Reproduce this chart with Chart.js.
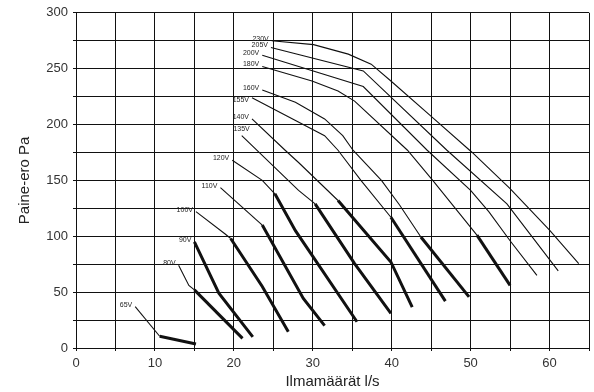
<!DOCTYPE html>
<html>
<head>
<meta charset="utf-8">
<script src="https://cdn.jsdelivr.net/npm/chart.js@4"></script>
<style>
  html, body { margin: 0; padding: 0; background: #fff; }
  #wrap { width: 594px; height: 392px; }
</style>
</head>
<body>
<div id="wrap"><canvas id="fanChart" width="594" height="392"></canvas></div>
<script>
// fan curves: thin part (outside the recommended range) and bold part
const voltages = ['65V', '80V', '90V', '100V', '110V', '120V', '135V', '140V', '155V', '160V', '180V', '200V', '205V', '230V'];

const thinFlow = [
    [7.5, 10.6],
    [13.0, 14.3, 15.0],
    [],
    [15.2, 18.9, 19.6],
    [18.3, 23.6],
    [19.8, 23.6, 25.2],
    [21.0, 28.2, 30.3],
    [22.3, 26.5, 28.2, 33.2],
    [22.3, 31.5, 33.2, 36.1, 39.9],
    [23.6, 27.8, 31.5, 33.8, 35.1, 38.7, 41.0, 43.7],
    [23.6, 29.9, 33.2, 35.3, 42.0, 45.2, 50.8],
    [23.6, 36.4, 44.5, 50.0, 52.3, 55.0, 58.4],
    [24.7, 36.4, 47.0, 54.6, 61.1],
    [24.8, 30.1, 34.5, 37.4, 39.9, 44.9, 50.2, 55.0, 60.0, 63.7]
];
const thinPressure = [
    [37, 10.5],
    [74, 56, 52],
    [],
    [122, 102, 98],
    [143.5, 110],
    [168, 150, 138],
    [190, 141, 129],
    [205, 177, 166, 132],
    [224, 190, 177, 150, 117],
    [231, 220, 205, 190, 177, 150, 128, 99.4],
    [252, 239, 230, 221, 177, 150, 101],
    [262, 234, 177, 141, 122, 96, 65],
    [269, 248, 177, 129, 69],
    [275, 271.5, 263, 254, 239, 208, 175, 142.6, 105.4, 75.6]
];
const boldFlow = [
    [10.6, 15.2],
    [15.0, 21.1],
    [15.0, 18.1, 22.4],
    [19.6, 23.6, 26.9],
    [23.6, 28.8, 31.5],
    [25.2, 27.8, 35.6],
    [30.3, 35.3, 39.9],
    [33.2, 39.9, 42.6],
    [39.9, 46.8],
    [43.7, 49.8],
    [50.8, 55.0],
    [],
    [],
    []
];
const boldPressure = [
    [10.5, 3.6],
    [52, 8.6],
    [95, 49, 10],
    [98, 55, 14.6],
    [110, 44.4, 20],
    [138, 105, 23.5],
    [129, 75.6, 31],
    [132, 77, 36.5],
    [117, 42],
    [99.4, 45.8],
    [101, 56],
    [],
    [],
    []
];

const xTicks = [0, 10, 20, 30, 40, 50, 60];
const yTicks = [0, 50, 100, 150, 200, 250, 300];

(function() {
    'use strict';

    const INK = '#111';
    const GRID = '#111';
    const FONT = "'Liberation Sans', Arial, sans-serif";

    function toPoints(xs, ys) {
        return xs.map(function(x, i) { return { x: x, y: ys[i] }; });
    }

    const datasets = [];
    voltages.forEach(function(v, i) {
        if (thinFlow[i].length) {
            datasets.push({
                label: v,
                data: toPoints(thinFlow[i], thinPressure[i]),
                borderColor: INK,
                borderWidth: 1.1,
                pointRadius: 0,
                tension: 0
            });
        }
        if (boldFlow[i].length) {
            datasets.push({
                label: v,
                data: toPoints(boldFlow[i], boldPressure[i]),
                borderColor: INK,
                borderWidth: 3,
                pointRadius: 0,
                tension: 0
            });
        }
    });

    // white page behind the plot
    const background = {
        id: 'background',
        beforeDraw: function(chart) {
            const c = chart.ctx;
            c.save();
            c.fillStyle = '#fff';
            c.fillRect(0, 0, chart.width, chart.height);
            c.restore();
        }
    };

    // voltage tag at the start of every curve
    const curveTags = {
        id: 'curveTags',
        afterDatasetsDraw: function(chart) {
            const c = chart.ctx;
            const xs = chart.scales.x, ys = chart.scales.y;
            c.save();
            c.font = '7px ' + FONT;
            c.fillStyle = '#222';
            c.textBaseline = 'middle';
            c.textAlign = 'right';
            voltages.forEach(function(v, i) {
                const fx = thinFlow[i].length ? thinFlow[i][0] : boldFlow[i][0];
                const fy = thinFlow[i].length ? thinPressure[i][0] : boldPressure[i][0];
                let px = xs.getPixelForValue(fx);
                let py = ys.getPixelForValue(fy);
                if (v === '135V') { px += 11; py -= 5; }
                if (v === '155V') { py += 4; }
                c.fillText(v, px - 3, py - 2);
            });
            c.restore();
        }
    };

    new Chart(document.getElementById('fanChart'), {
        type: 'line',
        data: { datasets: datasets },
        plugins: [background, curveTags],
        options: {
            responsive: false,
            animation: false,
            devicePixelRatio: 1,
            layout: { padding: { top: 12, right: 2, bottom: 0, left: 0 } },
            plugins: {
                legend: { display: false },
                tooltip: { enabled: false }
            },
            scales: {
                x: {
                    type: 'linear',
                    min: 0,
                    max: 65,
                    afterFit: function(s) { s.height = 44; },
                    ticks: {
                        stepSize: 5,
                        autoSkip: false,
                        maxRotation: 0,
                        padding: 5,
                        color: '#333',
                        font: { family: FONT, size: 13 },
                        callback: function(v) { return xTicks.indexOf(v) >= 0 ? v : ''; }
                    },
                    grid: { color: GRID, lineWidth: 1, tickLength: 3 },
                    border: { color: GRID, width: 1 },
                    title: {
                        display: true,
                        text: 'Ilmamäärät l/s',
                        color: '#222',
                        font: { family: FONT, size: 15 },
                        padding: { top: 0, bottom: 1 }
                    }
                },
                y: {
                    min: 0,
                    max: 300,
                    afterFit: function(s) { s.width = 76; },
                    ticks: {
                        stepSize: 25,
                        padding: 5,
                        color: '#333',
                        font: { family: FONT, size: 13 },
                        callback: function(v) { return yTicks.indexOf(v) >= 0 ? v : ''; }
                    },
                    grid: { color: GRID, lineWidth: 1, tickLength: 3 },
                    border: { color: GRID, width: 1 },
                    title: {
                        display: true,
                        text: 'Paine-ero Pa',
                        color: '#222',
                        font: { family: FONT, size: 15 },
                        padding: { top: 16, bottom: 0 }
                    }
                }
            }
        }
    });
})();
</script>
</body>
</html>
